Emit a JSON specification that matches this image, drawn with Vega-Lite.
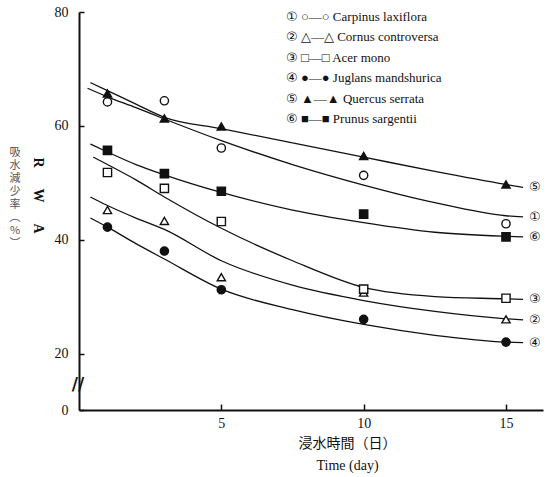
{
  "$schema": "https://vega.github.io/schema/vega-lite/v6.json",
  "width": 464,
  "height": 398,
  "autosize": "none",
  "padding": {"left": 79, "top": 12, "right": 10, "bottom": 67},
  "background": "white",
  "title": {
    "text": ["吸", "水", "減", "少", "率", "︵", "%", "︶"],
    "orient": "left",
    "angle": 0,
    "anchor": "middle",
    "align": "center",
    "baseline": "middle",
    "font": "Noto Sans CJK JP",
    "fontSize": 11,
    "fontWeight": "normal",
    "color": "#555",
    "lineHeight": 13,
    "offset": 4,
    "dy": -58
  },
  "datasets": {
    "obs": [
      {"sp": "Carpinus laxiflora", "day": 1, "rwa": 64.2},
      {"sp": "Carpinus laxiflora", "day": 3, "rwa": 64.4},
      {"sp": "Carpinus laxiflora", "day": 5, "rwa": 56.1},
      {"sp": "Carpinus laxiflora", "day": 10, "rwa": 51.3},
      {"sp": "Carpinus laxiflora", "day": 15, "rwa": 42.8},
      {"sp": "Cornus controversa", "day": 1, "rwa": 45.2},
      {"sp": "Cornus controversa", "day": 3, "rwa": 43.3},
      {"sp": "Cornus controversa", "day": 5, "rwa": 33.4},
      {"sp": "Cornus controversa", "day": 10, "rwa": 30.7},
      {"sp": "Cornus controversa", "day": 15, "rwa": 26.0},
      {"sp": "Acer mono", "day": 1, "rwa": 51.8},
      {"sp": "Acer mono", "day": 3, "rwa": 49.0},
      {"sp": "Acer mono", "day": 5, "rwa": 43.2},
      {"sp": "Acer mono", "day": 10, "rwa": 31.3},
      {"sp": "Acer mono", "day": 15, "rwa": 29.7},
      {"sp": "Juglans mandshurica", "day": 1, "rwa": 42.2},
      {"sp": "Juglans mandshurica", "day": 3, "rwa": 38.0},
      {"sp": "Juglans mandshurica", "day": 5, "rwa": 31.2},
      {"sp": "Juglans mandshurica", "day": 10, "rwa": 26.0},
      {"sp": "Juglans mandshurica", "day": 15, "rwa": 22.0},
      {"sp": "Quercus serrata", "day": 1, "rwa": 65.7},
      {"sp": "Quercus serrata", "day": 3, "rwa": 61.3},
      {"sp": "Quercus serrata", "day": 5, "rwa": 59.9},
      {"sp": "Quercus serrata", "day": 10, "rwa": 54.7},
      {"sp": "Quercus serrata", "day": 15, "rwa": 49.7},
      {"sp": "Prunus sargentii", "day": 1, "rwa": 55.7},
      {"sp": "Prunus sargentii", "day": 3, "rwa": 51.6},
      {"sp": "Prunus sargentii", "day": 5, "rwa": 48.5},
      {"sp": "Prunus sargentii", "day": 10, "rwa": 44.5},
      {"sp": "Prunus sargentii", "day": 15, "rwa": 40.5}
    ],
    "fit": [
      {"sp": "Quercus serrata", "day": 0.4, "rwa": 67.6},
      {"sp": "Quercus serrata", "day": 1, "rwa": 66.2},
      {"sp": "Quercus serrata", "day": 2, "rwa": 63.8},
      {"sp": "Quercus serrata", "day": 3, "rwa": 61.5},
      {"sp": "Quercus serrata", "day": 5, "rwa": 59.5},
      {"sp": "Quercus serrata", "day": 7.5, "rwa": 57.0},
      {"sp": "Quercus serrata", "day": 10, "rwa": 54.5},
      {"sp": "Quercus serrata", "day": 12.5, "rwa": 52.0},
      {"sp": "Quercus serrata", "day": 15, "rwa": 49.7},
      {"sp": "Quercus serrata", "day": 15.6, "rwa": 49.2},
      {"sp": "Carpinus laxiflora", "day": 0.3, "rwa": 66.6},
      {"sp": "Carpinus laxiflora", "day": 1, "rwa": 65.1},
      {"sp": "Carpinus laxiflora", "day": 2, "rwa": 63.2},
      {"sp": "Carpinus laxiflora", "day": 3, "rwa": 61.2},
      {"sp": "Carpinus laxiflora", "day": 5, "rwa": 57.4},
      {"sp": "Carpinus laxiflora", "day": 7.5, "rwa": 53.2},
      {"sp": "Carpinus laxiflora", "day": 10, "rwa": 49.6},
      {"sp": "Carpinus laxiflora", "day": 12.5, "rwa": 46.5},
      {"sp": "Carpinus laxiflora", "day": 15, "rwa": 44.2},
      {"sp": "Carpinus laxiflora", "day": 15.6, "rwa": 44.0},
      {"sp": "Prunus sargentii", "day": 0.4, "rwa": 56.8},
      {"sp": "Prunus sargentii", "day": 1, "rwa": 55.4},
      {"sp": "Prunus sargentii", "day": 2, "rwa": 53.2},
      {"sp": "Prunus sargentii", "day": 3, "rwa": 51.4},
      {"sp": "Prunus sargentii", "day": 5, "rwa": 48.3},
      {"sp": "Prunus sargentii", "day": 7.5, "rwa": 45.2},
      {"sp": "Prunus sargentii", "day": 10, "rwa": 43.0},
      {"sp": "Prunus sargentii", "day": 12.5, "rwa": 41.3},
      {"sp": "Prunus sargentii", "day": 15, "rwa": 40.6},
      {"sp": "Prunus sargentii", "day": 15.6, "rwa": 40.5},
      {"sp": "Acer mono", "day": 0.5, "rwa": 54.5},
      {"sp": "Acer mono", "day": 1, "rwa": 53.2},
      {"sp": "Acer mono", "day": 2, "rwa": 50.5},
      {"sp": "Acer mono", "day": 3, "rwa": 47.5},
      {"sp": "Acer mono", "day": 5, "rwa": 42.0},
      {"sp": "Acer mono", "day": 7.5, "rwa": 36.3},
      {"sp": "Acer mono", "day": 10, "rwa": 31.6},
      {"sp": "Acer mono", "day": 12.5, "rwa": 30.0},
      {"sp": "Acer mono", "day": 15, "rwa": 29.6},
      {"sp": "Acer mono", "day": 15.6, "rwa": 29.5},
      {"sp": "Cornus controversa", "day": 0.4, "rwa": 47.5},
      {"sp": "Cornus controversa", "day": 1, "rwa": 46.0},
      {"sp": "Cornus controversa", "day": 2, "rwa": 43.8},
      {"sp": "Cornus controversa", "day": 3, "rwa": 41.8},
      {"sp": "Cornus controversa", "day": 5, "rwa": 36.3},
      {"sp": "Cornus controversa", "day": 7.5, "rwa": 32.0},
      {"sp": "Cornus controversa", "day": 10, "rwa": 29.3},
      {"sp": "Cornus controversa", "day": 12.5, "rwa": 27.4},
      {"sp": "Cornus controversa", "day": 15, "rwa": 26.1},
      {"sp": "Cornus controversa", "day": 15.6, "rwa": 25.9},
      {"sp": "Juglans mandshurica", "day": 0.4, "rwa": 43.8},
      {"sp": "Juglans mandshurica", "day": 1, "rwa": 42.2},
      {"sp": "Juglans mandshurica", "day": 2, "rwa": 39.3},
      {"sp": "Juglans mandshurica", "day": 3, "rwa": 36.6},
      {"sp": "Juglans mandshurica", "day": 5, "rwa": 31.3},
      {"sp": "Juglans mandshurica", "day": 7.5, "rwa": 27.7},
      {"sp": "Juglans mandshurica", "day": 10, "rwa": 25.1},
      {"sp": "Juglans mandshurica", "day": 12.5, "rwa": 23.2},
      {"sp": "Juglans mandshurica", "day": 15, "rwa": 22.0},
      {"sp": "Juglans mandshurica", "day": 15.6, "rwa": 21.9}
    ],
    "tags": [
      {"sp": "Carpinus laxiflora", "tag": "①"},
      {"sp": "Cornus controversa", "tag": "②"},
      {"sp": "Acer mono", "tag": "③"},
      {"sp": "Juglans mandshurica", "tag": "④"},
      {"sp": "Quercus serrata", "tag": "⑤"},
      {"sp": "Prunus sargentii", "tag": "⑥"}
    ]
  },
  "layer": [
    {
      "data": {"name": "fit"},
      "mark": {"type": "line", "interpolate": "monotone", "color": "#111", "strokeWidth": 1.3},
      "encoding": {
        "x": {
          "field": "day", "type": "quantitative",
          "scale": {"domain": [0, 16.3], "nice": false, "zero": false},
          "axis": {
            "values": [5, 10, 15],
            "title": ["浸水時間（日）", "Time (day)"],
            "titleX": 268
          }
        },
        "y": {
          "field": "rwa", "type": "quantitative",
          "scale": {"domain": [0, 20, 80], "range": [398, 341.5, 0], "nice": false, "zero": false},
          "axis": {
            "values": [0, 20, 40, 60, 80],
            "title": "R\u00a0\u00a0\u00a0\u00a0\u00a0\u00a0W\u00a0\u00a0\u00a0\u00a0\u00a0\u00a0A",
            "titleAngle": 90,
            "titleY": 183
          }
        },
        "detail": {"field": "sp"}
      }
    },
    {
      "data": {"name": "obs"},
      "mark": {"type": "point", "filled": true, "stroke": "#111", "strokeWidth": 1.4, "size": 68, "opacity": 1},
      "encoding": {
        "x": {"field": "day", "type": "quantitative"},
        "y": {"field": "rwa", "type": "quantitative"},
        "shape": {
          "field": "sp", "type": "nominal",
          "scale": {
            "domain": ["Carpinus laxiflora", "Cornus controversa", "Acer mono", "Juglans mandshurica", "Quercus serrata", "Prunus sargentii"],
            "range": ["circle", "triangle-up", "square", "circle", "triangle-up", "square"]
          },
          "legend": {
            "orient": "none",
            "legendX": 194,
            "legendY": -2,
            "title": null,
            "symbolSize": 0,
            "symbolOpacity": 0,
            "symbolStrokeWidth": 0,
            "labelOffset": 0,
            "padding": 0,
            "rowPadding": 6.5,
            "labelFontSize": 13,
            "labelFont": "Liberation Serif, DejaVu Sans, Noto Sans CJK JP",
            "labelColor": "#111",
            "labelLimit": 400,
            "labelExpr": "({'Carpinus laxiflora': '① ○—○ ', 'Cornus controversa': '② △—△ ', 'Acer mono': '③ □—□ ', 'Juglans mandshurica': '④ ●—● ', 'Quercus serrata': '⑤ ▲—▲ ', 'Prunus sargentii': '⑥ ■—■ '})[datum.label] + datum.label"
          }
        },
        "fill": {
          "field": "sp", "type": "nominal",
          "scale": {
            "domain": ["Carpinus laxiflora", "Cornus controversa", "Acer mono", "Juglans mandshurica", "Quercus serrata", "Prunus sargentii"],
            "range": ["white", "white", "white", "#111", "#111", "#111"]
          },
          "legend": null
        }
      }
    },
    {
      "data": {"name": "fit"},
      "transform": [
        {"joinaggregate": [{"op": "max", "field": "day", "as": "last"}], "groupby": ["sp"]},
        {"filter": "datum.day === datum.last"},
        {"lookup": "sp", "from": {"data": {"name": "tags"}, "key": "sp", "fields": ["tag"]}}
      ],
      "mark": {"type": "text", "align": "left", "baseline": "middle", "dx": 6, "fontSize": 13, "font": "DejaVu Sans", "color": "#111"},
      "encoding": {
        "x": {"field": "day", "type": "quantitative"},
        "y": {"field": "rwa", "type": "quantitative"},
        "text": {"field": "tag"}
      }
    },
    {
      "data": {"values": [{}]},
      "mark": {"type": "text", "text": "//", "fontSize": 17, "fontWeight": "bold", "font": "DejaVu Sans", "color": "#111", "align": "center", "baseline": "middle", "dx": -1},
      "encoding": {
        "x": {"datum": 0},
        "y": {"datum": 9}
      }
    }
  ],
  "config": {
    "view": {"stroke": null},
    "font": "Liberation Serif",
    "axis": {
      "grid": false,
      "domainColor": "#111",
      "domainWidth": 2,
      "tickColor": "#111",
      "tickWidth": 1.5,
      "labelColor": "#111",
      "labelFont": "Liberation Serif",
      "labelFontSize": 14,
      "titleColor": "#111"
    },
    "axisX": {
      "tickSize": -6,
      "labelPadding": 12,
      "titleFont": "Liberation Serif, Noto Sans CJK JP",
      "titleFontSize": 14,
      "titleFontWeight": "normal",
      "titleLineHeight": 22,
      "titlePadding": 6
    },
    "axisY": {
      "tickSize": -5,
      "labelPadding": 16,
      "titleFont": "Liberation Serif",
      "titleFontSize": 14,
      "titleFontWeight": "bold",
      "titlePadding": 24
    }
  }
}
